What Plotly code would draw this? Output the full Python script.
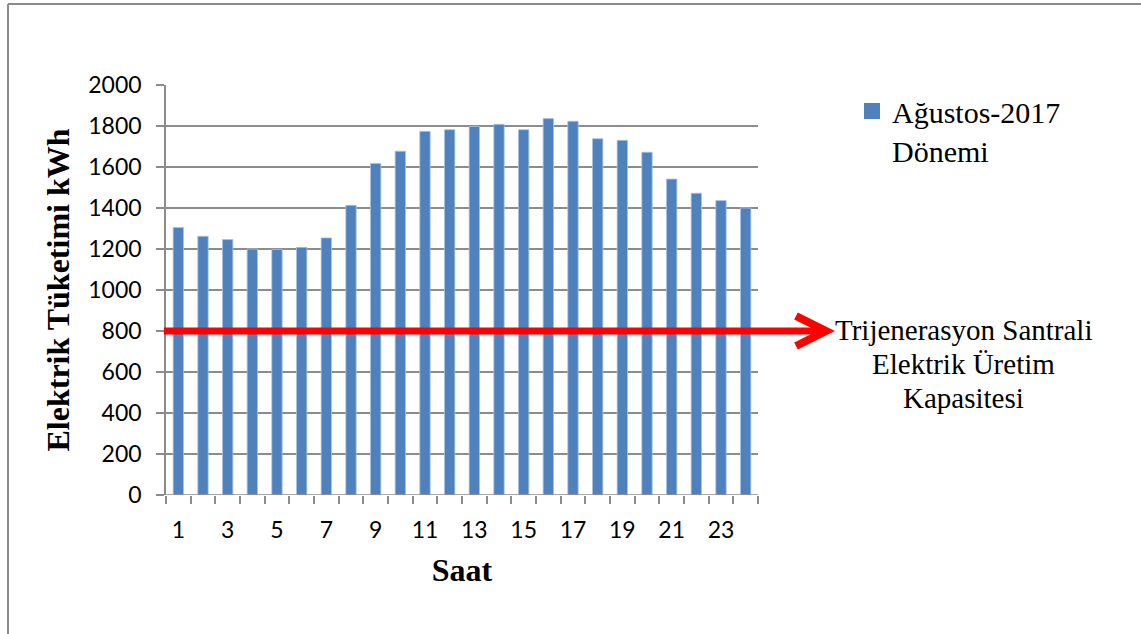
import plotly.graph_objects as go

# ---- data ----
hours = list(range(1, 25))
consumption_kwh = [1305, 1262, 1246, 1200, 1198, 1208, 1254, 1413, 1617, 1677, 1774, 1782,
                   1798, 1808, 1782, 1836, 1823, 1738, 1730, 1672, 1541, 1472, 1436, 1400]
tick_labels = [str(h) for h in hours if h % 2 == 1]
tick_values = [h for h in hours if h % 2 == 1]
capacity_kwh = 800
series_name = "Ağustos-2017<br>Dönemi"
capacity_label = ["Trijenerasyon Santrali", "Elektrik Üretim", "Kapasitesi"]
y_ticks = list(range(0, 2001, 200))

# ---- layout geometry (body margin removed by post_script) ----
W, H = 1141, 634
ML, MT = 166, 85
PW, PH = 758 - 166, 495 - 85
MR, MB = W - ML - PW, H - MT - PH


def px(x):
    """reference-image pixel x -> paper x"""
    return (x - ML) / PW


def py(y):
    """reference-image pixel y -> paper y"""
    return (MT + PH - y) / PH


BAR = "#4F81BD"
GRID = "#8C8C8C"
RED = "#FF0000"
SANS = "Lato"
SERIF = "Liberation Serif, Times New Roman, serif"

fig = go.Figure()
fig.add_trace(go.Bar(
    x=hours, y=consumption_kwh, marker=dict(color=BAR, line=dict(color="#A9C1E0", width=0.8)),
    showlegend=False, name="Ağustos-2017 Dönemi"))
# legend entry
fig.add_trace(go.Scatter(
    x=[None], y=[None], mode="markers", name=series_name,
    marker=dict(symbol="square", size=16, color=BAR), showlegend=True))

fig.update_layout(
    width=W, height=H,
    margin=dict(l=ML, r=MR, t=MT, b=MB, autoexpand=False),
    paper_bgcolor="white", plot_bgcolor="white",
    bargap=0.58,
    showlegend=True,
    legend=dict(x=px(852), y=py(85), xanchor="left", yanchor="top", valign="top",
                font=dict(family=SERIF, size=30, color="black"), bgcolor="rgba(0,0,0,0)",
                itemsizing="trace"),
    xaxis=dict(range=[0.5, 24.5], tickmode="array", tickvals=tick_values, ticktext=tick_labels,
               ticks="", showgrid=False, showline=False, zeroline=False,
               tickfont=dict(family=SANS, size=23, color="black"), ticklabelstandoff=19,
               minor=dict(tickmode="linear", tick0=0.5, dtick=1, ticks="outside", ticklen=8,
                          tickcolor=GRID, tickwidth=1.5, showgrid=False),
               title=dict(text="<b>Saat</b>", font=dict(family=SERIF, size=32, color="black"),
                          standoff=16)),
    yaxis=dict(range=[0, 2000], tickmode="array", tickvals=y_ticks,
               ticks="outside", ticklen=8, tickcolor=GRID, tickwidth=1.5,
               showgrid=True, gridcolor=GRID, gridwidth=1.5,
               showline=True, linecolor=GRID, linewidth=1.5, zeroline=False,
               tickfont=dict(family=SANS, size=23, color="black"), ticklabelstandoff=10,
               title=dict(text="<b>Elektrik Tüketimi kWh</b>",
                          font=dict(family=SERIF, size=32, color="black"), standoff=9)),
)

# baseline along y=0
fig.add_shape(type="line", xref="paper", yref="y", x0=0, x1=1, y0=0, y1=0,
              line=dict(color=GRID, width=1.5))

# capacity arrow
tip_x = px(826)
fig.add_shape(type="line", xref="paper", yref="y", x0=px(164), x1=px(818),
              y0=capacity_kwh, y1=capacity_kwh, line=dict(color=RED, width=7))
dy = 15 / PH * 2000
fig.add_shape(type="path", xref="paper", yref="y",
              path=f"M {px(796)},{capacity_kwh + dy} L {tip_x},{capacity_kwh} L {px(796)},{capacity_kwh - dy}",
              line=dict(color=RED, width=8))

# capacity label
for i, txt in enumerate(capacity_label):
    fig.add_annotation(text=txt, xref="paper", yref="paper", x=px(963), y=py(330 + 34 * i),
                       xanchor="center", yanchor="middle", showarrow=False,
                       font=dict(family=SERIF, size=29, color="black"))

# outer frame (top and left)
fig.add_shape(type="line", xref="paper", yref="paper", x0=px(8), x1=px(1150), y0=py(4), y1=py(4),
              line=dict(color="#8A8A8A", width=2))
fig.add_shape(type="line", xref="paper", yref="paper", x0=px(8), x1=px(8), y0=py(4), y1=py(650),
              line=dict(color="#8A8A8A", width=2))

fig.write_html("out.html", config={"displayModeBar": False},
               post_script="document.body.style.margin='0';")
